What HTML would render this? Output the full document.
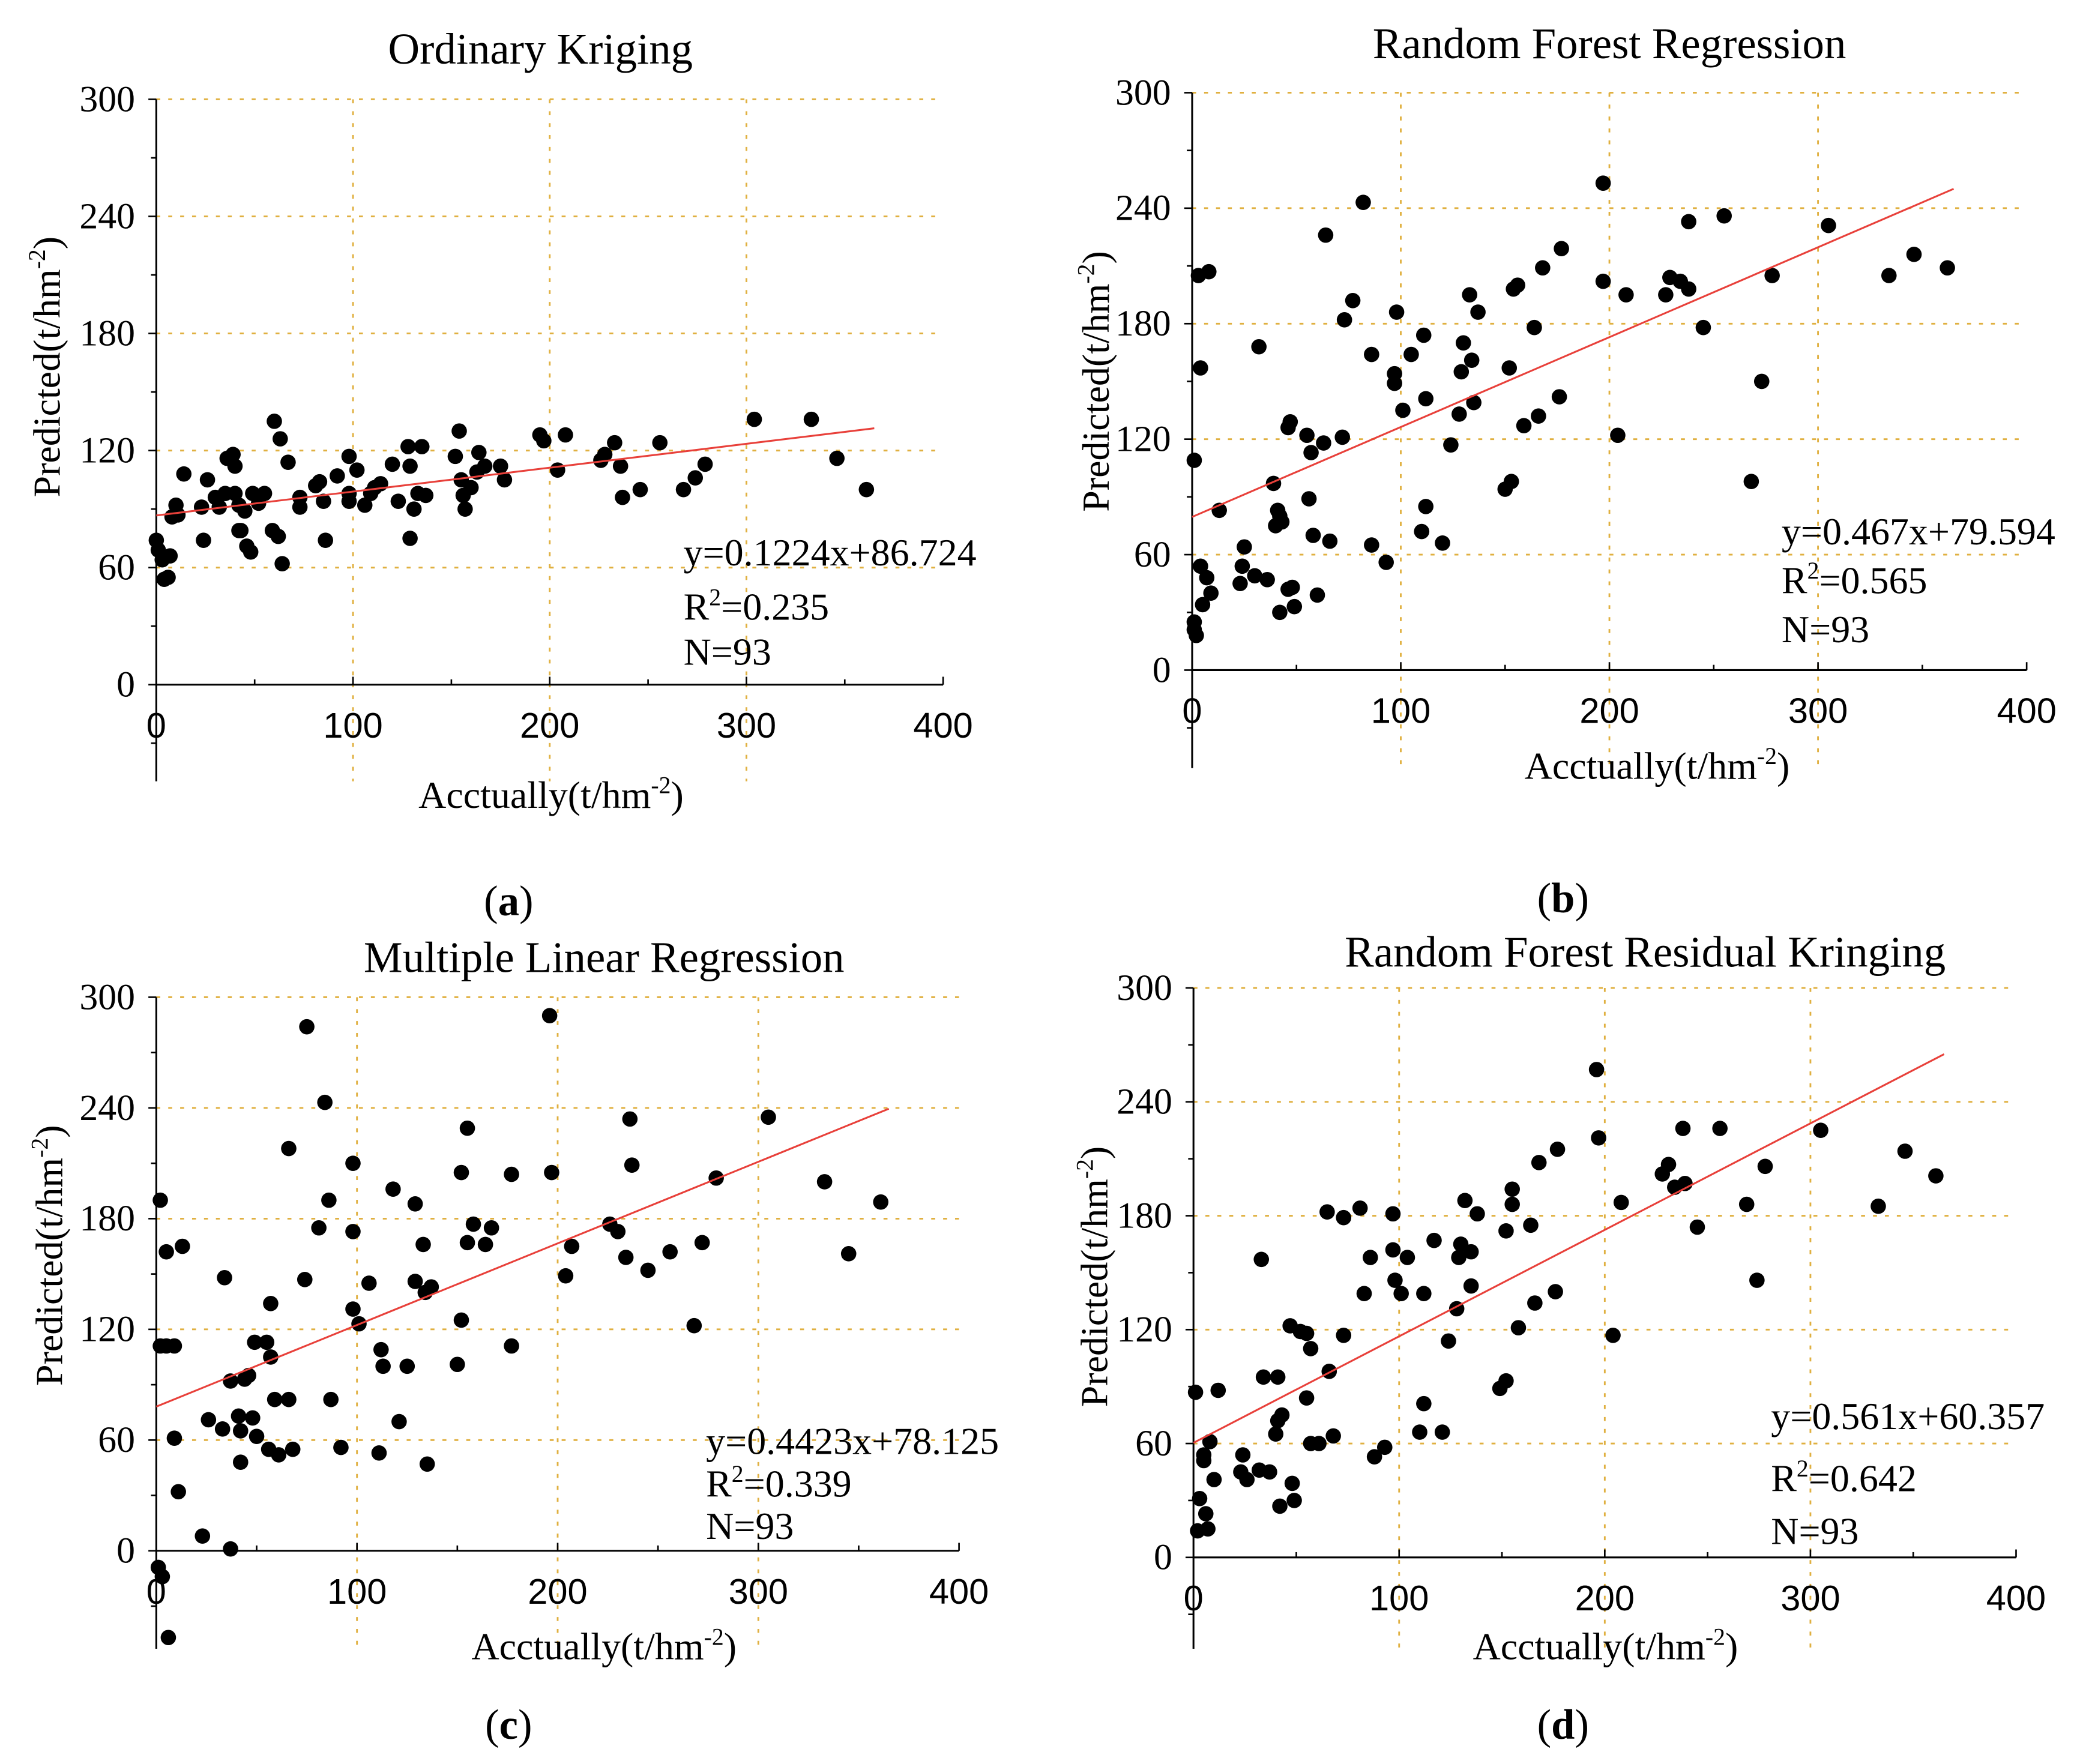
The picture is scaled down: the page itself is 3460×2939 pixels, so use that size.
<!DOCTYPE html>
<html><head><meta charset="utf-8"><style>
html,body{margin:0;padding:0;background:#fff;}
svg{display:block;}
.serif{font-family:"Liberation Serif",serif;fill:#000;}
.sans{font-family:"Liberation Sans",sans-serif;fill:#000;}
</style></head><body>
<svg id="fig" width="3460" height="2939" viewBox="0 0 1568 1332" preserveAspectRatio="none" xmlns="http://www.w3.org/2000/svg"></svg>
<script>
// ---- data (actual, predicted) ----
const okActual=[0,1,3,4,6,7,8,10,11,14,23,24,26,30,32,35,36,39,40,40,42,42,43,45,46,48,49,52,55,59,60,63,62,64,67,73,73,81,83,85,86,92,98,98,98,102,106,109,111,114,120,123,128,129,129,131,133,135,137,152,154,155,156,157,160,163,164,167,175,177,195,197,204,208,226,228,233,237,236,246,256,268,274,279,304,333,346,361];
const okPred=[74,69,64,54,55,66,86,92,87,108,91,74,105,96,91,98,116,118,98,112,92,79,79,89,71,68,98,93,98,79,135,126,76,62,114,96,91,102,104,94,74,107,117,98,94,110,92,98,101,103,113,94,122,112,75,90,98,122,97,117,130,105,97,90,101,109,119,112,112,105,128,125,110,128,115,118,124,96,112,100,124,100,106,113,136,136,116,100];
const rfActual=[1,3,4,4,8,9,7,5,1,2,1,13,23,24,25,30,32,36,39,40,41,42,42,43,46,46,47,48,49,55,56,57,58,60,63,64,66,72,73,77,82,86,86,93,97,97,98,101,105,110,111,112,112,120,124,128,129,130,133,134,135,137,150,152,153,154,156,159,164,166,168,176,177,197,197,204,208,227,229,234,238,238,245,255,273,268,278,305,334,346,362];
const rfPred=[109,205,157,54,207,40,48,34,21,18,25,83,45,54,64,49,168,47,97,75,83,30,80,77,42,126,129,43,33,122,89,113,70,39,118,226,67,121,182,192,243,164,65,56,149,154,186,135,164,72,174,141,85,66,117,133,155,170,195,161,139,186,94,157,98,198,200,127,178,132,209,142,219,253,202,122,195,195,204,202,198,233,178,236,150,98,205,231,205,216,209];
const mlrActual=[1,3,2,5,2,5,9,9,11,13,23,26,34,33,37,37,41,42,42,44,46,48,49,50,55,56,57,57,59,61,66,66,68,74,75,81,84,86,87,92,98,98,98,101,106,111,112,113,118,121,125,129,129,133,134,135,137,150,152,152,155,155,158,164,167,177,177,196,197,204,207,226,230,234,236,237,245,256,268,272,279,305,333,345,361,6];
const mlrPred=[-9,-14,190,162,111,111,111,61,32,165,8,71,148,66,1,92,73,65,48,93,95,72,113,62,113,55,105,134,82,52,82,218,55,147,284,175,243,190,82,56,210,173,131,123,145,53,109,100,196,70,100,188,146,166,140,47,143,101,205,125,229,167,177,166,175,204,111,290,205,149,165,177,173,159,234,209,152,162,122,167,202,235,200,161,189,-47];
const rfrkActual=[1,3,2,5,5,6,7,8,10,12,23,24,26,32,33,34,37,40,41,42,41,43,47,48,49,52,55,57,55,57,61,65,66,68,73,73,81,83,86,88,93,97,97,98,101,104,110,112,112,117,121,124,128,129,130,132,135,135,138,149,152,152,155,155,158,164,166,168,176,177,196,197,204,208,228,231,234,238,239,245,256,269,274,278,305,333,346,361];
const rfrkPred=[87,31,14,51,54,23,15,61,41,88,45,54,41,46,157,95,45,65,95,27,72,75,122,39,30,119,118,110,84,60,60,182,98,64,179,117,184,139,158,53,58,162,181,146,139,158,66,81,139,167,66,114,131,158,165,188,161,143,181,89,93,172,186,194,121,175,134,208,140,215,257,221,117,187,202,207,195,226,197,174,226,186,146,206,225,185,214,201];
const xTicks=[0,100,200,300,400];
const yTicks=[0,60,120,180,240,300];
const slopes=[0.1224,0.467,0.4423,0.561];
const intercepts=[86.724,79.594,78.125,60.357];
const titles=["Ordinary Kriging","Random Forest Regression","Multiple Linear Regression","Random Forest Residual Kringing"];
const eqTexts=["y=0.1224x+86.724","y=0.467x+79.594","y=0.4423x+78.125","y=0.561x+60.357"];
const r2Texts=["0.235","0.565","0.339","0.642"];
const captions=["a","b","c","d"];

const NS="http://www.w3.org/2000/svg";
const svg=document.getElementById('fig');
function mk(tag,attrs,parent){const e=document.createElementNS(NS,tag);for(const k in attrs)e.setAttribute(k,attrs[k]);(parent||svg).appendChild(e);return e;}

const layout=[
 {x0:118,x1:712,y0:517,y1:75,bot:590,tx:408,ty:38,xlx:416,xly:600,ylx:35,yly:277,ax:516,ay:[417,458,492],cx:384,cy:680},
 {x0:900,x1:1530,y0:506,y1:70,bot:580,tx:1215,ty:34,xlx:1251,xly:578,ylx:827,yly:288,ax:1345,ay:[401,438,475],cx:1180,cy:678},
 {x0:118,x1:724,y0:1171,y1:753,bot:1245,tx:456,ty:724,xlx:456,xly:1243,ylx:37,yly:948,ax:533,ay:[1088,1120,1152],cx:384,cy:1302},
 {x0:901,x1:1522,y0:1176,y1:746,bot:1245,tx:1242,ty:720,xlx:1212,xly:1243,ylx:826,yly:964,ax:1337,ay:[1069,1116,1156],cx:1180,cy:1302}
];
const datasets=[[okActual,okPred],[rfActual,rfPred],[mlrActual,mlrPred],[rfrkActual,rfrkPred]];
const names=["ordinary-kriging","random-forest-regression","multiple-linear-regression","rf-residual-kriging"];

layout.forEach((L,i)=>{
  const g=mk('g',{});
  
  
  const sx=v=>L.x0+(L.x1-L.x0)*v/400;
  const sy=v=>L.y0-(L.y0-L.y1)*v/300;
  yTicks.slice(1).forEach(t=>{
    const l=mk('line',{x1:L.x0,x2:L.x1,y1:sy(t),y2:sy(t),stroke:'#e0b040','stroke-width':1.3,'stroke-dasharray':'3,6'},g);
    
    
  });
  xTicks.slice(1,4).forEach(t=>{
    const l=mk('line',{x1:sx(t),x2:sx(t),y1:L.y1,y2:L.bot,stroke:'#e0b040','stroke-width':1.3,'stroke-dasharray':'3,6'},g);
    
    
  });
  const ya=mk('line',{x1:L.x0,x2:L.x0,y1:L.y1,y2:L.bot,stroke:'#000','stroke-width':1.4},g);
  
  
  const xa=mk('line',{x1:L.x0,x2:L.x1,y1:L.y0,y2:L.y0,stroke:'#000','stroke-width':1.4},g);
  
  
  for(let t=-30;t<=300;t+=30){const y=sy(t);if(y>L.bot)continue;const major=t%60===0;mk('line',{x1:L.x0-(major?6:4),x2:L.x0,y1:y,y2:y,stroke:'#000','stroke-width':1.2},g);}
  for(let t=50;t<=400;t+=50){const major=t%100===0;mk('line',{x1:sx(t),x2:sx(t),y1:L.y0,y2:L.y0-(major?6:4),stroke:'#000','stroke-width':1.2},g);}
  yTicks.forEach(t=>{
    const e=mk('text',{x:L.x0-16,y:sy(t)+9,'text-anchor':'end','font-size':28,class:'serif'},g);
    e.textContent=t;
    
    
  });
  xTicks.forEach(t=>{
    const e=mk('text',{x:sx(t),y:L.y0+40,'text-anchor':'middle','font-size':27,class:'sans'},g);
    e.textContent=t;
    
    
  });
  const ti=mk('text',{x:L.tx,y:L.ty+10,'text-anchor':'middle','font-size':33,class:'serif'},g);
  ti.textContent=titles[i];
  
  
  const xl=mk('text',{x:L.xlx,y:L.xly+10,'text-anchor':'middle','font-size':29,class:'serif'},g);
  xl.innerHTML='Acctually(t/hm<tspan dy="-11" font-size="18">-2</tspan><tspan dy="11">)</tspan>';
  
  
  const yl=mk('text',{x:0,y:0,'text-anchor':'middle','font-size':29,class:'serif',transform:`translate(${L.ylx+10},${L.yly}) rotate(-90)`},g);
  yl.innerHTML='Predicted(t/hm<tspan dy="-11" font-size="18">-2</tspan><tspan dy="11">)</tspan>';
  
  
  const [xs,ys]=datasets[i];
  xs.forEach((xv,k)=>{
    const c=mk('circle',{cx:sx(xv),cy:sy(ys[k]),r:5.8,fill:'#000'},g);
    
    
  });
  const ln=mk('line',{x1:sx(0),y1:sy(intercepts[i]),x2:sx(365),y2:sy(intercepts[i]+slopes[i]*365),stroke:'#e8403a','stroke-width':1.4},g);
  
  
  const a1=mk('text',{x:L.ax,y:L.ay[0]+10,'font-size':29,class:'serif'},g);
  a1.textContent=eqTexts[i];
  
  
  const a2=mk('text',{x:L.ax,y:L.ay[1]+10,'font-size':29,class:'serif'},g);
  a2.innerHTML='R<tspan dy="-11" font-size="18">2</tspan><tspan dy="11">='+r2Texts[i]+'</tspan>';
  
  
  const a3=mk('text',{x:L.ax,y:L.ay[2]+10,'font-size':29,class:'serif'},g);
  a3.textContent='N=93';
  
  
  const cap=mk('text',{x:L.cx,y:L.cy+11,'text-anchor':'middle','font-size':32,class:'serif'},g);
  cap.innerHTML='(<tspan font-weight="bold">'+captions[i]+'</tspan>)';
  
  
});
</script>
</body></html>
